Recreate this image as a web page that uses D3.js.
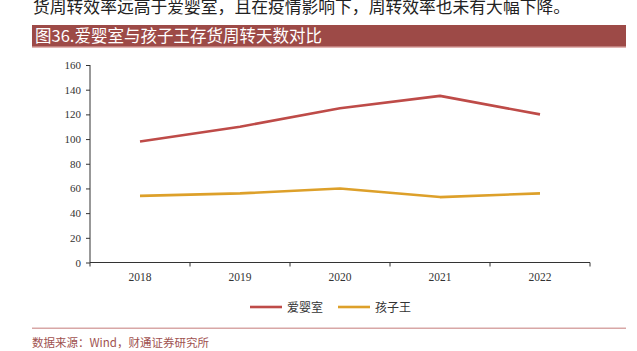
<!DOCTYPE html>
<html>
<head>
<meta charset="utf-8">
<script src="https://cdn.jsdelivr.net/npm/d3@7"></script>
<style>
html,body{margin:0;padding:0;background:#fff;}
svg{display:block;}
</style>
</head>
<body>
<svg id="chart" width="637" height="351"></svg>
<script>
const years = ["2018", "2019", "2020", "2021", "2022"];
const aiyingshi = [98, 110, 125, 135, 120];
const haiziwang = [54, 56, 60, 53, 56];
const yTicks = [0, 20, 40, 60, 80, 100, 120, 140, 160];
const seriesNames = ["爱婴室", "孩子王"];
const seriesColors = ["#be4b48", "#dda02a"];
const introText = "货周转效率远高于爱婴室，且在疫情影响下，周转效率也未有大幅下降。";
const titleText = "图36.爱婴室与孩子王存货周转天数对比";
const sourceText = "数据来源：Wind，财通证券研究所";

const svg = d3.select("#chart");
const serif = "'Liberation Serif','DejaVu Serif',serif";
const cjk = "'Noto Sans CJK SC','Noto Sans',sans-serif";

// intro text (cropped at top, as in the reference)
svg.append("text").attr("x", 33).attr("y", 12.5)
  .attr("font-family", cjk).attr("font-size", 16.8).attr("fill", "#222")
  .text(introText);

// title bar
svg.append("rect").attr("x", 32).attr("y", 25).attr("width", 594).attr("height", 22).attr("fill", "#9d4a47");
svg.append("rect").attr("x", 32).attr("y", 46.5).attr("width", 594).attr("height", 1.5).attr("fill", "#e2b4b2");
svg.append("text").attr("x", 35).attr("y", 42)
  .attr("font-family", cjk).attr("font-size", 16.5).attr("fill", "#fff")
  .text(titleText);

const x = d3.scaleBand().domain(years).range([90, 590]);
const y = d3.scaleLinear().domain([0, 160]).range([262.5, 65]);

// y axis
const yAxis = svg.append("g").attr("transform", "translate(90,0)")
  .call(d3.axisLeft(y).tickValues(yTicks).tickSize(4).tickPadding(5));
yAxis.select(".domain").attr("stroke", "#333").attr("d", `M0,${y(160)}V${y(0)}`);
yAxis.selectAll(".tick line").attr("stroke", "#333");
yAxis.selectAll("text").attr("font-family", serif).attr("font-size", 11).attr("fill", "#333");

// x axis
const xAxis = svg.append("g").attr("transform", `translate(0,${y(0)})`)
  .call(d3.axisBottom(x).tickSize(0).tickPadding(10));
xAxis.select(".domain").attr("stroke", "#333").attr("d", `M90,0H590`);
xAxis.selectAll("text").attr("font-family", serif).attr("font-size", 11.5).attr("fill", "#333");
// band boundary ticks
const bounds = years.map(d => x(d)).concat([x(years[years.length - 1]) + x.bandwidth()]);
svg.append("g").selectAll("line").data(bounds).join("line")
  .attr("x1", d => d).attr("x2", d => d)
  .attr("y1", y(0)).attr("y2", y(0) + 4)
  .attr("stroke", "#333");

// lines
const line = d3.line()
  .x((d, i) => x(years[i]) + x.bandwidth() / 2)
  .y(d => y(d));
[aiyingshi, haiziwang].forEach((vals, k) => {
  svg.append("path").datum(vals)
    .attr("fill", "none").attr("stroke", seriesColors[k])
    .attr("stroke-width", 2.6).attr("stroke-linejoin", "round")
    .attr("d", line);
});

// legend
const legendX = [250, 338];
seriesNames.forEach((name, k) => {
  svg.append("line").attr("x1", legendX[k]).attr("x2", legendX[k] + 32)
    .attr("y1", 307).attr("y2", 307)
    .attr("stroke", seriesColors[k]).attr("stroke-width", 2.6);
  svg.append("text").attr("x", legendX[k] + 37).attr("y", 311.5)
    .attr("font-family", cjk).attr("font-size", 12).attr("fill", "#333")
    .text(name);
});

// footer
svg.append("rect").attr("x", 32).attr("y", 327.5).attr("width", 594).attr("height", 1.5).attr("fill", "#d8a7a6");
svg.append("text").attr("x", 32).attr("y", 347)
  .attr("font-family", cjk).attr("font-size", 11.5).attr("fill", "#a0524f")
  .text(sourceText);
</script>
</body>
</html>
